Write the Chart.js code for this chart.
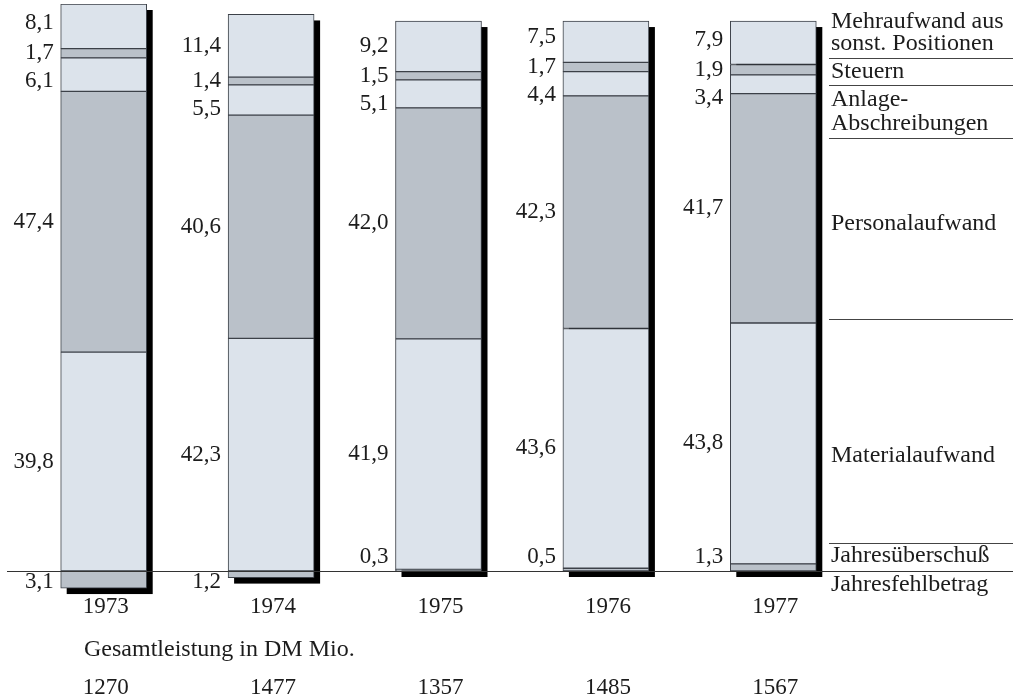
<!DOCTYPE html>
<html>
<head>
<meta charset="utf-8">
<script src="https://cdn.jsdelivr.net/npm/chart.js@4"></script>
<style>
html,body{margin:0;padding:0;background:#fff;}
#wrap{position:relative;width:1013px;height:699px;}
</style>
</head>
<body>
<div id="wrap"><canvas id="c"></canvas></div>
<script>
// ---- data ----
const years = ['1973', '1974', '1975', '1976', '1977'];
const gesamtleistung = ['1270', '1477', '1357', '1485', '1567'];
const jahresfehlbetrag = [-3.1, -1.2, null, null, null];
const jahresueberschuss = [null, null, 0.3, 0.5, 1.3];
const materialaufwand = [39.8, 42.3, 41.9, 43.6, 43.8];
const personalaufwand = [47.4, 40.6, 42.0, 42.3, 41.7];
const abschreibungen = [6.1, 5.5, 5.1, 4.4, 3.4];
const steuern = [1.7, 1.4, 1.5, 1.7, 1.9];
const mehraufwand = [8.1, 11.4, 9.2, 7.5, 7.9];
const legendTitle = 'Gesamtleistung in DM Mio.';

const LIGHT = '#dce3eb';
const DARK = '#bac1c9';
const EDGE = '#3c4148';
const FONT = '"Liberation Serif", "DejaVu Serif", serif';
const TEXT = '#1c1c1c';

function ds(label, data, color, role) {
  return {label, data, backgroundColor: color, borderColor: EDGE, borderWidth: 1,
          borderSkipped: false, stack: 's', role};
}

const shadowPlugin = {
  id: 'shadow',
  beforeDatasetsDraw(chart) {
    const ctx = chart.ctx;
    ctx.save();
    ctx.fillStyle = '#000';
    years.forEach((y, i) => {
      let top = Infinity, bottom = -Infinity, left = 0, right = 0;
      chart.data.datasets.forEach((d, di) => {
        const el = chart.getDatasetMeta(di).data[i];
        if (!el || d.data[i] == null) return;
        top = Math.min(top, el.y, el.base);
        bottom = Math.max(bottom, el.y, el.base);
        left = el.x - el.width / 2; right = el.x + el.width / 2;
      });
      ctx.fillRect(left + 6, top + 6, right - left, bottom - top);
    });
    ctx.restore();
  }
};

function fmt(v) { return Math.abs(v).toFixed(1).replace('.', ','); }

const textPlugin = {
  id: 'texts',
  afterDraw(chart) {
    const ctx = chart.ctx;
    const yScale = chart.scales.y;
    const xScale = chart.scales.x;
    const zeroY = yScale.getPixelForValue(0);
    ctx.save();
    ctx.fillStyle = TEXT;
    ctx.textBaseline = 'middle';

    // value labels left of each bar
    years.forEach((yr, i) => {
      const pos = {};
      chart.data.datasets.forEach((d, di) => {
        const el = chart.getDatasetMeta(di).data[i];
        if (!el || d.data[i] == null) return;
        pos[d.role] = {el, v: d.data[i], c: (el.y + el.base) / 2};
      });
      const sY = pos.steuern.c;
      const place = {};
      place.steuern = sY;
      place.mehr = Math.min(pos.mehr.c, sY - 30);
      place.afa = Math.max(pos.afa.c, sY + 28);
      place.personal = pos.personal.c;
      place.material = pos.material.c;
      if (pos.ueber) place.ueber = Math.min(pos.ueber.c, zeroY - 14);
      if (pos.fehl) place.fehl = Math.max(pos.fehl.c, zeroY + 11);
      ctx.font = '23px ' + FONT;
      ctx.textAlign = 'right';
      Object.keys(place).forEach(k => {
        const p = pos[k];
        const lx = p.el.x - p.el.width / 2 - 7;
        ctx.fillText(fmt(p.v), lx, place[k]);
      });
      // year and Gesamtleistung
      ctx.textAlign = 'center';
      const cx = xScale.getPixelForValue(i) + 2;
      ctx.fillText(yr, cx, 607);
      ctx.fillText(gesamtleistung[i], cx, 688);
    });

    ctx.font = '24px ' + FONT;
    ctx.textAlign = 'left';
    ctx.fillText(legendTitle, 84, 650);

    // right-hand legend
    const lx = 831;
    const entries = [
      ['Mehraufwand aus', 22], ['sonst. Positionen', 44], ['Steuern', 72],
      ['Anlage-', 100], ['Abschreibungen', 124], ['Personalaufwand', 224],
      ['Materialaufwand', 456], ['Jahresüberschuß', 556], ['Jahresfehlbetrag', 585]
    ];
    entries.forEach(([t, y]) => ctx.fillText(t, lx, y));
    ctx.strokeStyle = '#444';
    ctx.lineWidth = 1;
    [58, 85, 138, 319, 543].forEach(y => {
      ctx.beginPath(); ctx.moveTo(829, y + 0.5); ctx.lineTo(1013, y + 0.5); ctx.stroke();
    });
    // zero line
    ctx.lineWidth = 1.2;
    ctx.strokeStyle = '#333';
    ctx.beginPath(); ctx.moveTo(7, Math.round(zeroY) + 0.5); ctx.lineTo(1013, Math.round(zeroY) + 0.5); ctx.stroke();
    ctx.restore();
  }
};

new Chart(document.getElementById('c'), {
  type: 'bar',
  data: {
    labels: years,
    datasets: [
      ds('Jahresfehlbetrag', jahresfehlbetrag, DARK, 'fehl'),
      ds('Jahresüberschuß', jahresueberschuss, DARK, 'ueber'),
      ds('Materialaufwand', materialaufwand, LIGHT, 'material'),
      ds('Personalaufwand', personalaufwand, DARK, 'personal'),
      ds('Anlage-Abschreibungen', abschreibungen, LIGHT, 'afa'),
      ds('Steuern', steuern, DARK, 'steuern'),
      ds('Mehraufwand aus sonst. Positionen', mehraufwand, LIGHT, 'mehr')
    ]
  },
  options: {
    responsive: true,
    maintainAspectRatio: false,
    animation: false,
    devicePixelRatio: 1,
    layout: {padding: {left: 20, right: 156, top: 4, bottom: 100.5}},
    datasets: {bar: {barThickness: 86}},
    plugins: {legend: {display: false}, tooltip: {enabled: false}},
    scales: {
      x: {display: false, stacked: true},
      y: {display: false, stacked: true, min: -5, max: 103.1}
    }
  },
  plugins: [shadowPlugin, textPlugin]
});
</script>
</body>
</html>
